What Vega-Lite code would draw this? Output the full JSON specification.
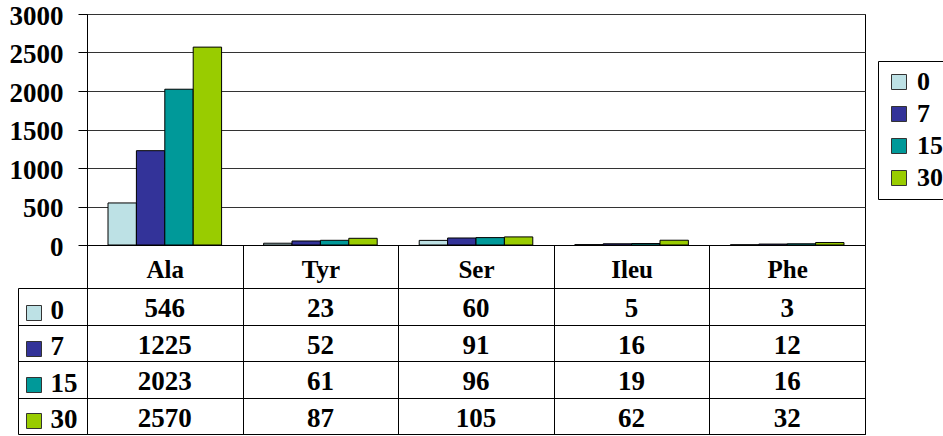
{
  "$schema": "https://vega.github.io/schema/vega-lite/v6.json",
  "background": "#ffffff",
  "padding": {"left": 8, "top": 1, "right": 0, "bottom": 0},
  "autosize": {"type": "pad"},
  "config": {
    "view": {"stroke": "#000000", "strokeWidth": 1},
    "font": "Liberation Serif",
    "axis": {"labelFont": "Liberation Serif", "labelFontWeight": "bold", "labelColor": "#000000", "titleFont": "Liberation Serif"},
    "legend": {"labelFont": "Liberation Serif", "labelFontWeight": "bold", "labelColor": "#000000"}
  },
  "datasets": {
    "amino": [
      {"aa": "Ala", "series": "0", "value": 546},
      {"aa": "Ala", "series": "7", "value": 1225},
      {"aa": "Ala", "series": "15", "value": 2023},
      {"aa": "Ala", "series": "30", "value": 2570},
      {"aa": "Tyr", "series": "0", "value": 23},
      {"aa": "Tyr", "series": "7", "value": 52},
      {"aa": "Tyr", "series": "15", "value": 61},
      {"aa": "Tyr", "series": "30", "value": 87},
      {"aa": "Ser", "series": "0", "value": 60},
      {"aa": "Ser", "series": "7", "value": 91},
      {"aa": "Ser", "series": "15", "value": 96},
      {"aa": "Ser", "series": "30", "value": 105},
      {"aa": "Ileu", "series": "0", "value": 5},
      {"aa": "Ileu", "series": "7", "value": 16},
      {"aa": "Ileu", "series": "15", "value": 19},
      {"aa": "Ileu", "series": "30", "value": 62},
      {"aa": "Phe", "series": "0", "value": 3},
      {"aa": "Phe", "series": "7", "value": 12},
      {"aa": "Phe", "series": "15", "value": 16},
      {"aa": "Phe", "series": "30", "value": 32}
    ]
  },
  "data": {"name": "amino"},
  "bounds": "flush",
  "spacing": 43,
  "resolve": {"scale": {"color": "independent", "x": "independent", "y": "independent"}, "legend": {"color": "independent"}},
  "vconcat": [
    {
      "width": 778,
      "height": 231,
      "mark": {"type": "bar", "stroke": "#000000", "strokeWidth": 1},
      "encoding": {
        "x": {
          "field": "aa", "type": "nominal",
          "sort": ["Ala", "Tyr", "Ser", "Ileu", "Phe"],
          "scale": {"paddingInner": 0, "paddingOuter": 0},
          "axis": {
            "title": null, "labelAngle": 0, "labelFontSize": 25,
            "labelBaseline": "alphabetic", "labelPadding": -11,
            "tickBand": "extent", "tickSize": 43, "tickColor": "#000000", "tickWidth": 1,
            "domainColor": "#000000", "domainWidth": 1, "grid": false
          }
        },
        "xOffset": {
          "field": "series", "type": "nominal",
          "sort": ["0", "7", "15", "30"],
          "scale": {"paddingInner": 0, "paddingOuter": 0.74}
        },
        "y": {
          "field": "value", "type": "quantitative",
          "scale": {"domain": [0, 3000], "nice": false},
          "axis": {
            "title": null, "values": [0, 500, 1000, 1500, 2000, 2500, 3000], "format": "d",
            "labelFontSize": 27, "labelPadding": 15, "labelOffset": 2,
            "tickSize": 9, "tickColor": "#000000", "domainColor": "#000000",
            "grid": true, "gridColor": "#333333", "gridWidth": 1, "gridOpacity": 1
          }
        },
        "color": {
          "field": "series", "type": "nominal",
          "sort": ["0", "7", "15", "30"],
          "scale": {"domain": ["0", "7", "15", "30"], "range": ["#BDE1E5", "#333399", "#009999", "#99CC00"]},
          "legend": {
            "title": null, "orient": "none", "legendX": 791, "legendY": 47,
            "strokeColor": "#000000", "fillColor": "#ffffff", "padding": 8,
            "symbolType": "square", "symbolSize": 225,
            "symbolStrokeColor": "#333333", "symbolStrokeWidth": 1,
            "labelFontSize": 26, "labelOffset": 5, "rowPadding": 6
          }
        }
      }
    },
    {
      "width": 778,
      "height": 146,
      "encoding": {
        "x": {
          "field": "aa", "type": "nominal",
          "sort": ["Ala", "Tyr", "Ser", "Ileu", "Phe"],
          "scale": {"paddingInner": 0, "paddingOuter": 0},
          "axis": {
            "orient": "top", "title": null, "labels": false, "ticks": false, "domain": false,
            "grid": true, "tickBand": "extent", "gridColor": "#000000", "gridWidth": 1, "gridOpacity": 1
          }
        },
        "y": {
          "field": "series", "type": "nominal",
          "sort": ["0", "7", "15", "30"],
          "scale": {"paddingInner": 0, "paddingOuter": 0},
          "axis": {
            "orient": "left", "title": null, "offset": 69,
            "labelFontSize": 27, "labelAlign": "left", "labelBaseline": "middle", "labelPadding": 37, "labelOffset": 4,
            "tickBand": "extent", "tickSize": -69, "tickColor": "#000000", "tickWidth": 1,
            "domainColor": "#000000", "domainWidth": 1,
            "grid": true, "gridColor": "#000000", "gridWidth": 1, "gridOpacity": 1
          }
        }
      },
      "layer": [
        {
          "mark": {"type": "point", "shape": "square", "filled": true, "opacity": 0},
          "encoding": {
            "color": {
              "field": "series", "type": "nominal",
              "sort": ["0", "7", "15", "30"],
              "scale": {"domain": ["0", "7", "15", "30"], "range": ["#BDE1E5", "#333399", "#009999", "#99CC00"]},
              "legend": {
                "title": null, "orient": "none", "legendX": -61, "legendY": 17,
                "padding": 0, "symbolType": "square", "symbolSize": 225, "symbolOpacity": 1,
                "symbolStrokeColor": "#333333", "symbolStrokeWidth": 1,
                "labelExpr": "''", "labelFontSize": 1, "labelOffset": 0, "rowPadding": 16
              }
            }
          }
        },
        {
          "mark": {"type": "text", "font": "Liberation Serif", "fontWeight": "bold", "fontSize": 27, "baseline": "middle", "dy": 3, "color": "#000000"},
          "encoding": {
            "text": {"field": "value", "type": "quantitative"}
          }
        }
      ]
    }
  ]
}
